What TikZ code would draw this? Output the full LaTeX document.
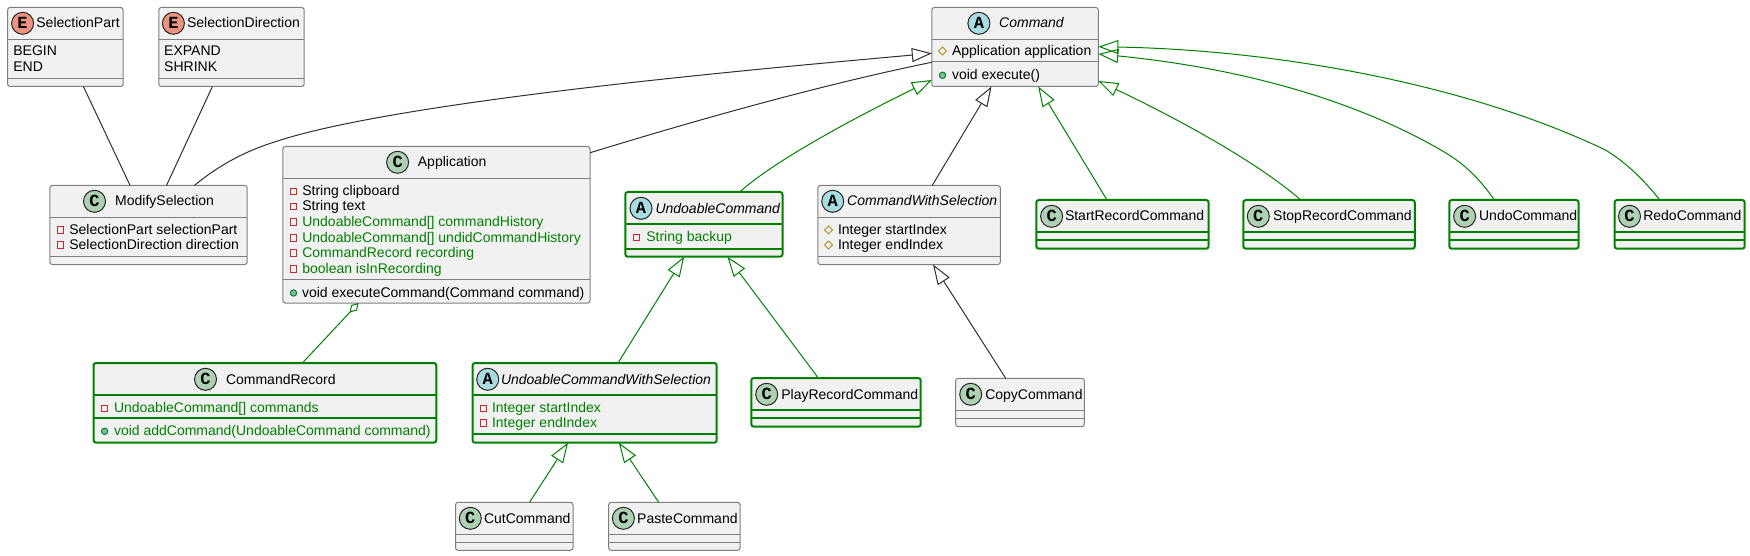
\documentclass[tikz,border=0pt]{standalone}
\usepackage{fontspec}
\setmainfont{Liberation Sans}
\newfontfamily\iconmono{Liberation Mono}
\usetikzlibrary{arrows.meta}
\definecolor{umlgreen}{HTML}{008000}
\definecolor{umlgray}{HTML}{7F7F7F}
\definecolor{umlfill}{HTML}{F1F1F1}
\definecolor{umledge}{HTML}{303030}
\definecolor{iconc}{HTML}{ADD1B2}
\definecolor{icona}{HTML}{A9DCDF}
\definecolor{icone}{HTML}{EB937F}
\definecolor{privline}{HTML}{C82930}
\definecolor{publine}{HTML}{038048}
\definecolor{pubfill}{HTML}{84BE84}
\definecolor{protline}{HTML}{B38D22}
\newcommand{\txtfont}{\fontsize{14}{14}\selectfont}
\tikzset{
  plainbox/.style={draw=umlgray,line width=1pt,fill=umlfill,rounded corners=2.5pt,inner sep=0pt,outer sep=0pt},
  greenbox/.style={draw=umlgreen,line width=2pt,fill=umlfill,rounded corners=2.5pt,inner sep=0pt,outer sep=0pt},
  plainsep/.style={draw=umlgray,line width=1pt},
  greensep/.style={draw=umlgreen,line width=2pt},
  lbl/.style={anchor=base west,inner sep=0pt,outer sep=0pt,font=\txtfont,text=black},
  glbl/.style={lbl,text=umlgreen},
  ilbl/.style={lbl,font=\txtfont\itshape},
  badge/.style={circle,draw=black!85,line width=1pt,minimum size=22pt,inner sep=0pt,font=\iconmono\bfseries\fontsize{17}{17}\selectfont},
  assoc/.style={draw=umledge,line width=1pt},
  gassoc/.style={draw=umlgreen,line width=1pt},
  inherit/.style={assoc,-{Triangle[open,length=20pt,width=14pt]}},
  ginherit/.style={gassoc,-{Triangle[open,length=20pt,width=14pt]}},
  gaggr/.style={gassoc,-{Diamond[open,length=13pt,width=8pt]}},
}
\newcount\txtn
\newcommand{\umlbox}[6]{\node[#6,minimum width={(#4-#2)*1pt},minimum height={(#5-#3)*1pt}] (#1) at ({(#2+#4)/2},{(#3+#5)/2}) {};}
\newcommand{\umlsep}[4]{\draw[#4] (#1,#3) -- (#2,#3);}
\newcommand{\lab}[4]{\global\advance\txtn by 1 \node[#1] (t\the\txtn) at (#2,#3) {#4};}
\newcommand{\icon}[4]{\global\advance\txtn by 1 \node[badge,fill=#1] (t\the\txtn) at (#2,#3) {#4};}
\newcommand{\privmark}[2]{\draw[draw=privline,line width=1pt] ({#1-3.2},{#2-3.2}) rectangle ({#1+3.2},{#2+3.2});}
\newcommand{\pubmark}[2]{\draw[draw=publine,fill=pubfill,line width=1pt] (#1,#2) circle (3.2pt);}
\newcommand{\protmark}[2]{\draw[draw=protline,line width=1pt] ({#1-4},#2) -- (#1,{#2-4}) -- ({#1+4},#2) -- (#1,{#2+4}) -- cycle;}
\begin{document}
\begin{tikzpicture}[x=1pt,y=-1pt]
\useasboundingbox (0,0) rectangle (1750,556);
% boxes
\umlbox{selpart}{7.6}{7.5}{123.2}{86.5}{plainbox}
\umlsep{7.6}{123.2}{39.5}{plainsep}\umlsep{7.6}{123.2}{78.5}{plainsep}
\umlbox{seldir}{158.8}{7.5}{304.2}{86.5}{plainbox}
\umlsep{158.8}{304.2}{39.5}{plainsep}\umlsep{158.8}{304.2}{78.5}{plainsep}
\umlbox{mod}{49.8}{185.5}{247.2}{264.5}{plainbox}
\umlsep{49.8}{247.2}{217.5}{plainsep}\umlsep{49.8}{247.2}{256.5}{plainsep}
\umlbox{app}{282.8}{146.5}{590.1}{303}{plainbox}
\umlsep{282.8}{590.1}{178.5}{plainsep}\umlsep{282.8}{590.1}{279.5}{plainsep}
\umlbox{rec}{93.5}{363}{436.3}{442.7}{greenbox}
\umlsep{93.5}{436.3}{395.3}{greensep}\umlsep{93.5}{436.3}{418}{greensep}
\umlbox{uws}{472.5}{363}{716.7}{442.7}{greenbox}
\umlsep{472.5}{716.7}{395.3}{greensep}\umlsep{472.5}{716.7}{434.3}{greensep}
\umlbox{cut}{455.5}{502.3}{573}{550.3}{plainbox}
\umlsep{455.5}{573}{534.3}{plainsep}\umlsep{455.5}{573}{542.3}{plainsep}
\umlbox{paste}{608.7}{502.3}{740}{550.3}{plainbox}
\umlsep{608.7}{740}{534.3}{plainsep}\umlsep{608.7}{740}{542.3}{plainsep}
\umlbox{play}{751.3}{378}{920.7}{426.7}{greenbox}
\umlsep{751.3}{920.7}{410.3}{greensep}\umlsep{751.3}{920.7}{418.3}{greensep}
\umlbox{copy}{955.7}{378.3}{1084.3}{426.7}{plainbox}
\umlsep{955.7}{1084.3}{410.3}{plainsep}\umlsep{955.7}{1084.3}{418.3}{plainsep}
\umlbox{cmd}{931.8}{7.5}{1098.3}{86.5}{plainbox}
\umlsep{931.8}{1098.3}{39.5}{plainsep}\umlsep{931.8}{1098.3}{62}{plainsep}
\umlbox{undoable}{625.3}{192}{782.5}{256.7}{greenbox}
\umlsep{625.3}{782.5}{224.3}{greensep}\umlsep{625.3}{782.5}{248.5}{greensep}
\umlbox{cws}{817.8}{185.5}{1000.3}{264.5}{plainbox}
\umlsep{817.8}{1000.3}{217.5}{plainsep}\umlsep{817.8}{1000.3}{256.5}{plainsep}
\umlbox{start}{1036.3}{200}{1208.6}{248.7}{greenbox}
\umlsep{1036.3}{1208.6}{232.3}{greensep}\umlsep{1036.3}{1208.6}{240.3}{greensep}
\umlbox{stop}{1243.4}{200}{1414.8}{248.7}{greenbox}
\umlsep{1243.4}{1414.8}{232.3}{greensep}\umlsep{1243.4}{1414.8}{240.3}{greensep}
\umlbox{undo}{1449.3}{200}{1578.6}{248.7}{greenbox}
\umlsep{1449.3}{1578.6}{232.3}{greensep}\umlsep{1449.3}{1578.6}{240.3}{greensep}
\umlbox{redo}{1614.6}{200}{1744.7}{248.7}{greenbox}
\umlsep{1614.6}{1744.7}{232.3}{greensep}\umlsep{1614.6}{1744.7}{240.3}{greensep}
% headers
\icon{icone}{22.6}{23.3}{E}\lab{lbl}{36.4}{28}{SelectionPart}
\lab{lbl}{13.4}{56}{BEGIN}\lab{lbl}{13.4}{71.3}{END}
\icon{icone}{173.4}{23.3}{E}\lab{lbl}{187.1}{28}{SelectionDirection}
\lab{lbl}{164.2}{56}{EXPAND}\lab{lbl}{164.2}{71.3}{SHRINK}
\icon{iconc}{94.5}{201.3}{C}\lab{lbl}{115.2}{206}{ModifySelection}
\privmark{60.2}{230}\lab{lbl}{69.3}{234}{SelectionPart selectionPart}
\privmark{60.2}{245}\lab{lbl}{69.3}{249.3}{SelectionDirection direction}
\icon{iconc}{397.6}{162.3}{C}\lab{lbl}{417.9}{167}{Application}
\privmark{293.5}{191.3}\lab{lbl}{302.3}{195.5}{String clipboard}
\privmark{293.5}{206.3}\lab{lbl}{302.3}{210.5}{String text}
\privmark{293.5}{222}\lab{glbl}{302.3}{226.3}{UndoableCommand[] commandHistory}
\privmark{293.5}{238}\lab{glbl}{302.3}{242}{UndoableCommand[] undidCommandHistory}
\privmark{293.5}{253}\lab{glbl}{302.3}{257.3}{CommandRecord recording}
\privmark{293.5}{269}\lab{glbl}{302.3}{273.3}{boolean isInRecording}
\pubmark{293.5}{293}\lab{lbl}{302}{297.3}{void executeCommand(Command command)}
\icon{iconc}{205.5}{379.3}{C}\lab{lbl}{226}{384.3}{CommandRecord}
\privmark{104.6}{408.3}\lab{glbl}{114}{412.3}{UndoableCommand[] commands}
\pubmark{104.6}{431.3}\lab{glbl}{114}{435}{void addCommand(UndoableCommand command)}
\icon{icona}{487.7}{379.3}{A}\lab{ilbl}{501}{384.3}{UndoableCommandWithSelection}
\privmark{483.2}{408.3}\lab{glbl}{492}{412.3}{Integer startIndex}
\privmark{483.2}{423}\lab{glbl}{492}{427.3}{Integer endIndex}
\icon{iconc}{470.3}{518.3}{C}\lab{lbl}{484}{523.3}{CutCommand}
\icon{iconc}{623.4}{518.3}{C}\lab{lbl}{637.2}{523.3}{PasteCommand}
\icon{iconc}{766.7}{394.3}{C}\lab{lbl}{781.3}{399}{PlayRecordCommand}
\icon{iconc}{970.7}{394.3}{C}\lab{lbl}{985.3}{399}{CopyCommand}
\icon{icona}{978.9}{23.3}{A}\lab{ilbl}{999.2}{28}{Command}
\protmark{942.5}{51}\lab{lbl}{952}{56}{Application application}
\pubmark{942.5}{75.3}\lab{lbl}{952}{79.3}{void execute()}
\icon{icona}{641}{208.3}{A}\lab{ilbl}{655.5}{213}{UndoableCommand}
\privmark{636.4}{237.7}\lab{glbl}{646.3}{241.3}{String backup}
\icon{icona}{832.7}{201.3}{A}\lab{ilbl}{847.2}{206}{CommandWithSelection}
\protmark{828.5}{230}\lab{lbl}{838}{234}{Integer startIndex}
\protmark{828.5}{245}\lab{lbl}{838}{249.3}{Integer endIndex}
\icon{iconc}{1051.6}{216.3}{C}\lab{lbl}{1065}{221}{StartRecordCommand}
\icon{iconc}{1258.3}{216.3}{C}\lab{lbl}{1273.2}{221}{StopRecordCommand}
\icon{iconc}{1464.6}{216.3}{C}\lab{lbl}{1479.1}{221}{UndoCommand}
\icon{iconc}{1629.5}{216.3}{C}\lab{lbl}{1643.3}{221}{RedoCommand}
% connectors
\draw[assoc] ([xshift=18pt]selpart.south) -- ([xshift=-18.4pt]mod.north);
\draw[assoc] ([xshift=-19.1pt]seldir.south) -- ([xshift=18pt]mod.north);
\draw[inherit] ([xshift=45.9pt]mod.north) .. controls (225,160) and (255,148) .. (275.5,141.7) .. controls (400,100) and (780,67) .. ([yshift=-6.3pt]cmd.west);
\draw[assoc] ([yshift=72pt]app.east) .. controls (690,122) and (820,85) .. ([yshift=-15.3pt]cmd.west);
\draw[ginherit] ([xshift=35.8pt]undoable.north) .. controls (775,160) and (860,115) .. ([yshift=-33pt]cmd.west);
\draw[inherit] ([xshift=23.15pt]cws.north) -- ([xshift=-23.55pt]cmd.south);
\draw[ginherit] ([xshift=-15.45pt]start.north) -- ([xshift=23.15pt]cmd.south);
\draw[ginherit] ([xshift=-28.3pt]stop.north) .. controls (1255,160) and (1170,115) .. ([yshift=-34pt]cmd.east);
\draw[ginherit] ([xshift=-19.55pt]undo.north) .. controls (1475,172) and (1458,160) .. (1440.9,150) .. controls (1340,92) and (1220,66) .. ([yshift=-7pt]cmd.east);
\draw[ginherit] ([xshift=-19.85pt]redo.north) .. controls (1640,175) and (1622,160) .. (1605.4,150) .. controls (1470,85) and (1280,50) .. ([yshift=0.3pt]cmd.east);
\draw[inherit] ([xshift=-14.3pt]copy.north) -- ([xshift=23.95pt]cws.south);
\draw[ginherit] ([xshift=-17.7pt]play.north) -- ([xshift=23.5pt]undoable.south);
\draw[ginherit] ([xshift=23.4pt]uws.north) -- ([xshift=-19.7pt]undoable.south);
\draw[ginherit] ([xshift=15.35pt]cut.north) -- ([xshift=-26.6pt]uws.south);
\draw[ginherit] ([xshift=-15.65pt]paste.north) -- ([xshift=24.3pt]uws.south);
\draw[gaggr] ([xshift=37.5pt]rec.north) -- ([xshift=-77.95pt]app.south);
\end{tikzpicture}
\end{document}
